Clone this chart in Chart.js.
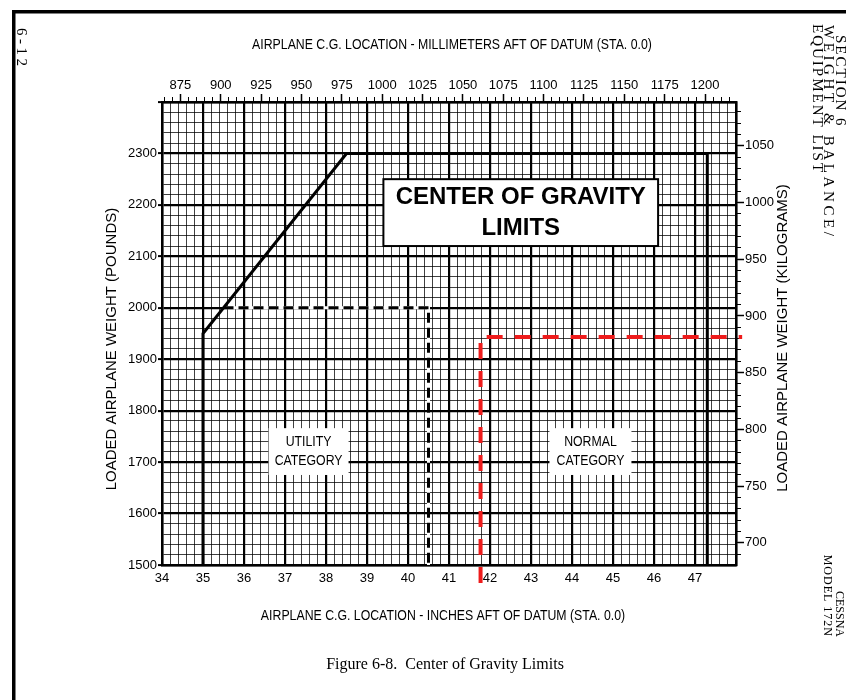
<!DOCTYPE html>
<html>
<head>
<meta charset="utf-8">
<title>Center of Gravity Limits</title>
<script src="https://cdn.jsdelivr.net/npm/chart.js@4.4.1/dist/chart.umd.min.js"></script>
<style>
  html, body { margin: 0; padding: 0; background: #fff; }
  #wrap { position: relative; width: 846px; height: 700px; }
</style>
</head>
<body>
<div id="wrap"><canvas id="cgChart" width="846" height="700"></canvas></div>
<script>
// Envolvente categoria normal (pulgadas / libras)
const normalArm = [35.0, 35.0, 38.5, 47.3, 47.3];
const normalWeight = [1500, 1950, 2300, 2300, 1500];

// Envolvente categoria utilitaria (linea discontinua)
const utilityArm = [35.5, 40.5, 40.5];
const utilityWeight = [2000, 2000, 1500];

// Marca roja trazada sobre la grafica
const markArm = [41.77, 41.77, 48.15];
const markWeight = [1465, 1943, 1943];

// Etiquetas de los ejes
const inchLabels = [34, 35, 36, 37, 38, 39, 40, 41, 42, 43, 44, 45, 46, 47];
const poundLabels = [1500, 1600, 1700, 1800, 1900, 2000, 2100, 2200, 2300];
const mmLabels = [875, 900, 925, 950, 975, 1000, 1025, 1050, 1075, 1100, 1125, 1150, 1175, 1200];
const kgLabels = [700, 750, 800, 850, 900, 950, 1000, 1050];

// Rangos de la grafica
const inchRange = [34, 48];
const poundRange = [1500, 2400];
const MM_PER_IN = 25.4;
const LB_PER_KG = 2.20462;

const SANS = "'Liberation Sans', Arial, sans-serif";
const SERIF = "'Liberation Serif', serif";
const CONDENSADO = 0.82; // simula la letra estrecha del original

// Utilidades
const toPoints = (xs, ys) => xs.map((x, i) => ({ x: x, y: ys[i] }));
const inList = (list, v) => list.some(l => Math.abs(l - v) < 1e-6);
const isMultiple = (v, step) => Math.abs(v / step - Math.round(v / step)) < 1e-6;
const labelFrom = (list) => (v) => inList(list, v) ? String(Math.round(v)) : '';

// Dibuja texto girado (y opcionalmente estrechado)
function textoGirado(ctx, txt, x, y, ang, font, align, spacing, sx) {
    ctx.save();
    ctx.translate(x, y);
    ctx.rotate(ang);
    if (sx) ctx.scale(sx, 1);
    ctx.font = font;
    ctx.fillStyle = '#000';
    ctx.textAlign = align || 'center';
    ctx.textBaseline = 'middle';
    if (spacing) ctx.letterSpacing = spacing;
    ctx.fillText(txt, 0, 0);
    ctx.restore();
}

// Recuadro blanco con texto, en coordenadas de datos
function recuadro(chart, x1, x2, y1, y2, lineas, font, lineGap, borde, sx) {
    const { ctx, scales: { x, y } } = chart;
    const px1 = x.getPixelForValue(x1), px2 = x.getPixelForValue(x2);
    const py1 = y.getPixelForValue(y2), py2 = y.getPixelForValue(y1);
    ctx.save();
    ctx.fillStyle = '#fff';
    ctx.fillRect(px1, py1, px2 - px1, py2 - py1);
    if (borde) {
        ctx.lineWidth = borde;
        ctx.strokeStyle = '#000';
        ctx.strokeRect(px1, py1, px2 - px1, py2 - py1);
    }
    ctx.restore();
    const cx = (px1 + px2) / 2, cy = (py1 + py2) / 2;
    const start = cy - (lineas.length - 1) * lineGap / 2;
    lineas.forEach((t, i) => textoGirado(ctx, t, cx, start + i * lineGap, 0, font, 'center', null, sx));
}

const anotaciones = {
    id: 'anotaciones',
    afterDatasetsDraw(chart) {
        recuadro(chart, 39.4, 46.1, 2120, 2250, ['CENTER OF GRAVITY', 'LIMITS'], 'bold 24px ' + SANS, 31, 2);
        recuadro(chart, 36.6, 38.55, 1675, 1766, ['UTILITY', 'CATEGORY'], '15px ' + SANS, 19, 0, CONDENSADO);
        recuadro(chart, 43.45, 45.45, 1675, 1766, ['NORMAL', 'CATEGORY'], '15px ' + SANS, 19, 0, CONDENSADO);
    },
    afterDraw(chart) {
        const ctx = chart.ctx;
        // Bordes de la pagina
        ctx.save();
        ctx.fillStyle = '#000';
        ctx.fillRect(12, 10, 834, 3.5);
        ctx.fillRect(12, 10, 3.5, 690);
        ctx.restore();

        // Titulos de los ejes
        textoGirado(ctx, 'AIRPLANE C.G. LOCATION - MILLIMETERS AFT OF DATUM (STA. 0.0)', 452, 45, 0, '15px ' + SANS, 'center', null, CONDENSADO);
        textoGirado(ctx, 'AIRPLANE C.G. LOCATION - INCHES AFT OF DATUM (STA. 0.0)', 443, 616, 0, '15px ' + SANS, 'center', null, CONDENSADO);
        textoGirado(ctx, 'LOADED AIRPLANE WEIGHT (POUNDS)', 112, 349, -Math.PI / 2, '15px ' + SANS);
        textoGirado(ctx, 'LOADED AIRPLANE WEIGHT (KILOGRAMS)', 783, 338, -Math.PI / 2, '15px ' + SANS);

        // Texto de la pagina
        textoGirado(ctx, 'Figure 6-8.  Center of Gravity Limits', 445, 665, 0, '16px ' + SERIF);
        textoGirado(ctx, '6-12', 21, 28, Math.PI / 2, '15px ' + SERIF, 'left', '3.5px');
        textoGirado(ctx, 'SECTION 6', 840, 35, Math.PI / 2, '15px ' + SERIF, 'left', '2px');
        textoGirado(ctx, 'WEIGHT & BALANCE/', 828, 25, Math.PI / 2, '15px ' + SERIF, 'left', '3.6px');
        textoGirado(ctx, 'EQUIPMENT LIST', 816.5, 24, Math.PI / 2, '15px ' + SERIF, 'left', '2px');
        textoGirado(ctx, 'CESSNA', 839, 637, Math.PI / 2, '12px ' + SERIF, 'right');
        textoGirado(ctx, 'MODEL 172N', 827, 637, Math.PI / 2, '12px ' + SERIF, 'right', '1px');
    }
};

const tickFont = { family: SANS, size: 13 };

const config = {
    type: 'scatter',
    data: {
        datasets: [
            {
                label: 'Marca',
                data: toPoints(markArm, markWeight),
                showLine: true,
                borderColor: '#ee1b1b',
                borderWidth: 4,
                borderDash: [16, 12],
                pointRadius: 0,
                clip: false,
                order: 0
            },
            {
                label: 'Normal',
                data: toPoints(normalArm, normalWeight),
                showLine: true,
                borderColor: '#000',
                borderWidth: 3,
                borderJoinStyle: 'miter',
                pointRadius: 0,
                order: 1
            },
            {
                label: 'Utility',
                data: toPoints(utilityArm, utilityWeight),
                showLine: true,
                borderColor: '#000',
                borderWidth: 3,
                borderDash: [10, 5],
                pointRadius: 0,
                order: 2
            },
            {
                label: 'Utility fondo',
                data: toPoints(utilityArm, utilityWeight),
                showLine: true,
                borderColor: '#fff',
                borderWidth: 3,
                pointRadius: 0,
                order: 3
            }
        ]
    },
    options: {
        responsive: false,
        animation: false,
        layout: { padding: 0 },
        plugins: {
            legend: { display: false },
            tooltip: { enabled: false }
        },
        scales: {
            x: {
                type: 'linear',
                position: 'bottom',
                min: inchRange[0],
                max: inchRange[1],
                afterFit: (s) => { s.height = 135; },
                border: { display: true, color: '#000', width: 2.5 },
                grid: {
                    color: (c) => c.tick && isMultiple(c.tick.value, 1) ? '#000' : 'rgba(0,0,0,0.75)',
                    lineWidth: (c) => c.tick && isMultiple(c.tick.value, 1) ? 2.2 : 1,
                    drawTicks: false
                },
                ticks: {
                    stepSize: 0.2,
                    autoSkip: false,
                    includeBounds: false,
                    maxRotation: 0,
                    padding: 6,
                    color: '#000',
                    font: tickFont,
                    callback: labelFrom(inchLabels)
                }
            },
            y: {
                type: 'linear',
                position: 'left',
                min: poundRange[0],
                max: poundRange[1],
                afterFit: (s) => { s.width = 162; },
                border: { display: true, color: '#000', width: 2.5 },
                grid: {
                    color: (c) => c.tick && isMultiple(c.tick.value, 100) ? '#000' : 'rgba(0,0,0,0.75)',
                    lineWidth: (c) => c.tick && isMultiple(c.tick.value, 100) ? 2.2 : 1,
                    drawTicks: true,
                    tickLength: 4,
                    tickWidth: 2,
                    tickColor: (c) => c.tick && isMultiple(c.tick.value, 100) ? '#000' : 'rgba(0,0,0,0)'
                },
                ticks: {
                    stepSize: 20,
                    autoSkip: false,
                    includeBounds: false,
                    padding: 1,
                    color: '#000',
                    font: tickFont,
                    callback: labelFrom(poundLabels)
                }
            },
            xTopMinor: {
                type: 'linear',
                position: 'top',
                weight: 0,
                min: inchRange[0] * MM_PER_IN,
                max: inchRange[1] * MM_PER_IN,
                afterFit: (s) => { s.height = 0; },
                border: { display: false },
                grid: { drawOnChartArea: false, drawTicks: true, tickLength: 5, tickWidth: 1, tickColor: '#000' },
                ticks: { stepSize: 5, autoSkip: false, includeBounds: false, display: false }
            },
            xTop: {
                type: 'linear',
                position: 'top',
                weight: 1,
                min: inchRange[0] * MM_PER_IN,
                max: inchRange[1] * MM_PER_IN,
                afterFit: (s) => { s.height = 102; },
                border: { display: true, color: '#000', width: 2.5 },
                grid: { drawOnChartArea: false, drawTicks: true, tickLength: 8, tickWidth: 1.5, tickColor: (c) => c.tick && inList(mmLabels, c.tick.value) ? '#000' : 'rgba(0,0,0,0)' },
                ticks: {
                    stepSize: 25,
                    autoSkip: false,
                    includeBounds: false,
                    maxRotation: 0,
                    padding: 1,
                    color: '#000',
                    font: tickFont,
                    callback: labelFrom(mmLabels)
                }
            },
            yKgMinor: {
                type: 'linear',
                position: 'right',
                weight: 0,
                min: poundRange[0] / LB_PER_KG,
                max: poundRange[1] / LB_PER_KG,
                afterFit: (s) => { s.width = 0; },
                border: { display: false },
                grid: { drawOnChartArea: false, drawTicks: true, tickLength: 5, tickWidth: 1, tickColor: '#000' },
                ticks: { stepSize: 10, autoSkip: false, includeBounds: false, display: false }
            },
            yKg: {
                type: 'linear',
                position: 'right',
                weight: 1,
                min: poundRange[0] / LB_PER_KG,
                max: poundRange[1] / LB_PER_KG,
                afterFit: (s) => { s.width = 110; },
                border: { display: true, color: '#000', width: 2.5 },
                grid: { drawOnChartArea: false, drawTicks: true, tickLength: 8, tickWidth: 1.5, tickColor: (c) => c.tick && inList(kgLabels, c.tick.value) ? '#000' : 'rgba(0,0,0,0)' },
                ticks: {
                    stepSize: 50,
                    autoSkip: false,
                    includeBounds: false,
                    padding: 1,
                    color: '#000',
                    font: tickFont,
                    callback: labelFrom(kgLabels)
                }
            }
        }
    },
    plugins: [anotaciones]
};

// Inicializar la grafica
document.addEventListener('DOMContentLoaded', () => {
    const ctx = document.getElementById('cgChart').getContext('2d');
    new Chart(ctx, config);
});
</script>
</body>
</html>
